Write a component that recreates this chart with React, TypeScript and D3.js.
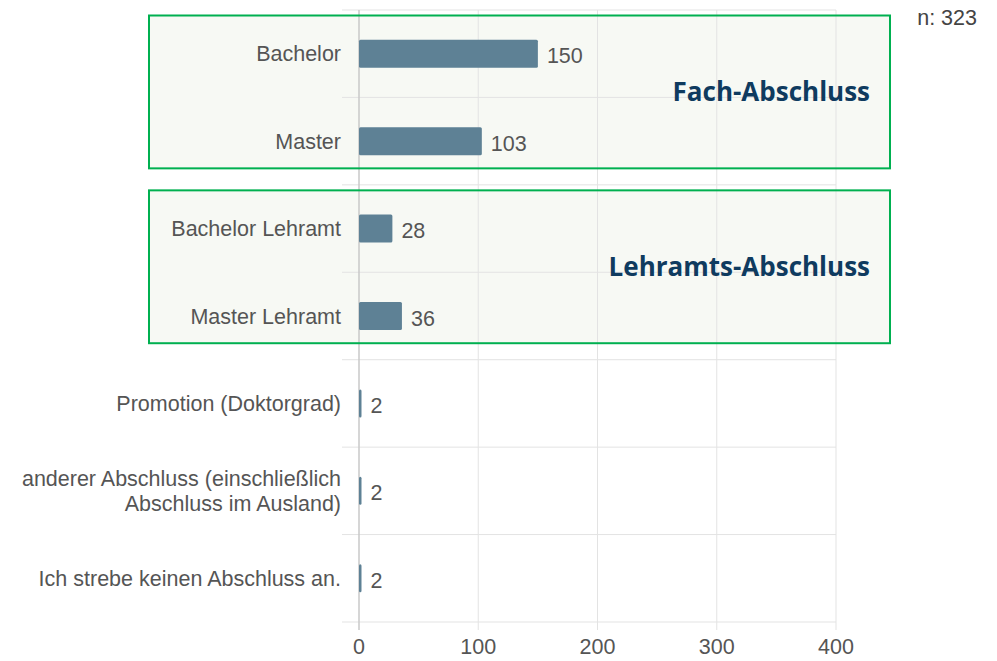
import React from "react";
import * as d3 from "d3";

const categories: string[][] = [
  ["Bachelor"],
  ["Master"],
  ["Bachelor Lehramt"],
  ["Master Lehramt"],
  ["Promotion (Doktorgrad)"],
  ["anderer Abschluss (einschließlich", "Abschluss im Ausland)"],
  ["Ich strebe keinen Abschluss an."],
];
const values: number[] = [150, 103, 28, 36, 2, 2, 2];
const xTicks: number[] = [0, 100, 200, 300, 400];
const groupLabels: string[] = ["Fach-Abschluss", "Lehramts-Abschluss"];
const groupRanges: number[][] = [[0, 1], [2, 3]];
const nLabel = "n: 323";

const W = 997;
const H = 661;
const FONT = "'Liberation Sans', Arial, sans-serif";

export default function App() {
  const x = d3.scaleLinear().domain([0, 400]).range([359, 836]);
  const idx = categories.map((_, i) => String(i));
  const y = d3.scaleBand<string>().domain(idx).range([10, 622]).padding(0);
  const bw = y.bandwidth();
  const barH = 28;
  const textColor = "#555";
  const gridColor = "#e3e3e3";
  const fs = 21.5;

  const boxY = (g: number[]) => {
    const y0 = (y(String(g[0])) as number) + 5.5;
    const y1 = (y(String(g[1])) as number) + bw - 16.5;
    return [y0, y1];
  };

  return (
    <svg width={W} height={H} style={{ position: "absolute", left: 0, top: 0, background: "#fff" }}>
      {groupRanges.map((g, i) => {
        const [y0, y1] = boxY(g);
        return <rect key={"bf" + i} x={149} y={y0} width={741} height={y1 - y0} fill="#f7f9f4" />;
      })}
      {d3.range(categories.length + 1).map((i) => {
        const yy = 10 + i * bw;
        return <line key={"h" + i} x1={342} x2={836} y1={yy} y2={yy} stroke={gridColor} strokeWidth={1} />;
      })}
      {xTicks.map((t) => (
        <line
          key={"v" + t}
          x1={x(t)}
          x2={x(t)}
          y1={10}
          y2={630}
          stroke={t === 0 ? "#c9c9c9" : gridColor}
          strokeWidth={t === 0 ? 1.5 : 1}
        />
      ))}
      {xTicks.map((t) => (
        <text key={"t" + t} x={x(t)} y={654} textAnchor="middle" fontFamily={FONT} fontSize={fs} fill={textColor}>
          {t}
        </text>
      ))}
      {values.map((v, i) => {
        const cy = (y(String(i)) as number) + bw / 2;
        return (
          <g key={"b" + i}>
            <rect x={x(0)} y={cy - barH / 2} width={Math.max(x(v) - x(0), 2.5)} height={barH} fill="#5e8195" rx={1.5} />
            <text x={x(v) + 9} y={cy + 2} dy="0.35em" fontFamily={FONT} fontSize={fs} fill={textColor}>
              {v}
            </text>
          </g>
        );
      })}
      {categories.map((lines, i) => {
        const cy = (y(String(i)) as number) + bw / 2;
        const lh = 25;
        const start = cy - ((lines.length - 1) * lh) / 2;
        return (
          <text key={"c" + i} textAnchor="end" fontFamily={FONT} fontSize={fs} fill={textColor}>
            {lines.map((l, j) => (
              <tspan key={j} x={341} y={start + j * lh} dy="0.35em">
                {l}
              </tspan>
            ))}
          </text>
        );
      })}
      {groupRanges.map((g, i) => {
        const [y0, y1] = boxY(g);
        const mid = (y0 + y1) / 2;
        return (
          <g key={"bs" + i}>
            <rect x={149} y={y0} width={741} height={y1 - y0} fill="none" stroke="#00b050" strokeWidth={2} />
            <text
              x={870}
              y={mid + 9}
              textAnchor="end"
              fontFamily="'Open Sans', sans-serif"
              fontWeight={700}
              fontSize={26}
              fill="#0f3b5f"
            >
              {groupLabels[i]}
            </text>
          </g>
        );
      })}
      <text x={977} y={25} textAnchor="end" fontFamily={FONT} fontSize={fs} fill="#444">
        {nLabel}
      </text>
    </svg>
  );
}
